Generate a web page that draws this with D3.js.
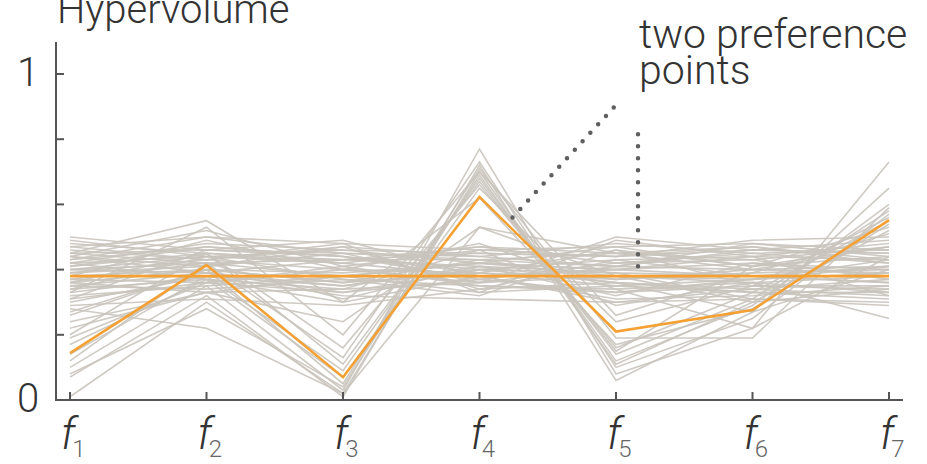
<!DOCTYPE html>
<html><head><meta charset="utf-8">
<script src="https://cdn.jsdelivr.net/npm/d3@7"></script>
<style>
html,body{margin:0;padding:0;background:#fff;}
svg{display:block;}
text{font-family:Roboto,"Open Sans",sans-serif;font-weight:300;}
</style></head>
<body>
<svg id="chart" width="927" height="464"></svg>
<script>
const dims = ["1","2","3","4","5","6","7"];
const yTicks = [0,0.2,0.4,0.6,0.8,1];
const yTickLabels = {0:"0",1:"1"};
const yTitle = "Hypervolume";
const annotation = ["two preference","points"];

const preferenceFlat = [0.38,0.38,0.38,0.38,0.38,0.38,0.38];
const preferenceZigzag = [0.144,0.414,0.07,0.623,0.21,0.276,0.552];

const grayLines = [
 [0.40,0.44,0.42,0.38,0.40,0.42,0.40],
 [0.45,0.46,0.44,0.40,0.43,0.44,0.43],
 [0.36,0.40,0.39,0.42,0.38,0.37,0.41],
 [0.42,0.48,0.46,0.45,0.44,0.46,0.45],
 [0.33,0.38,0.35,0.40,0.36,0.34,0.37],
 [0.47,0.50,0.48,0.46,0.47,0.48,0.44],
 [0.39,0.43,0.40,0.36,0.41,0.40,0.39],
 [0.44,0.41,0.45,0.43,0.45,0.43,0.47],
 [0.31,0.36,0.33,0.37,0.33,0.35,0.34],
 [0.41,0.45,0.43,0.47,0.42,0.45,0.42],
 [0.37,0.42,0.31,0.41,0.39,0.38,0.36],
 [0.43,0.47,0.44,0.39,0.46,0.41,0.44],
 [0.35,0.34,0.37,0.35,0.34,0.36,0.33],
 [0.46,0.43,0.47,0.44,0.48,0.45,0.46],
 [0.38,0.40,0.36,0.43,0.37,0.39,0.40],
 [0.32,0.35,0.38,0.33,0.35,0.33,0.31],
 [0.44,0.52,0.41,0.46,0.44,0.47,0.43],
 [0.40,0.39,0.43,0.41,0.32,0.42,0.38],
 [0.34,0.37,0.30,0.38,0.31,0.32,0.35],
 [0.42,0.44,0.46,0.42,0.40,0.44,0.48],
 [0.36,0.33,0.34,0.36,0.38,0.30,0.34],
 [0.48,0.45,0.42,0.47,0.45,0.47,0.42],
 [0.39,0.41,0.47,0.34,0.43,0.38,0.41],
 [0.30,0.38,0.32,0.31,0.30,0.34,0.32],
 [0.43,0.50,0.45,0.44,0.41,0.46,0.45],
 [0.37,0.36,0.40,0.39,0.35,0.37,0.39],
 [0.45,0.42,0.38,0.42,0.47,0.41,0.47],
 [0.41,0.47,0.44,0.37,0.42,0.43,0.37],
 [0.35,0.39,0.33,0.40,0.39,0.31,0.30],
 [0.49,0.44,0.43,0.45,0.44,0.49,0.50],
 [0.27,0.40,0.36,0.39,0.37,0.40,0.41],
 [0.24,0.33,0.38,0.42,0.40,0.38,0.36],
 [0.19,0.36,0.41,0.35,0.33,0.37,0.43],
 [0.29,0.31,0.29,0.34,0.36,0.33,0.33],
 [0.28,0.22,0.02,0.53,0.38,0.36,0.25],
 [0.10,0.35,0.03,0.77,0.08,0.22,0.73],
 [0.07,0.32,0.01,0.72,0.06,0.27,0.65],
 [0.01,0.30,0.02,0.70,0.12,0.29,0.60],
 [0.14,0.38,0.09,0.68,0.14,0.31,0.58],
 [0.12,0.42,0.13,0.73,0.10,0.25,0.57],
 [0.20,0.45,0.16,0.66,0.16,0.33,0.55],
 [0.26,0.40,0.05,0.71,0.19,0.19,0.59],
 [0.17,0.37,0.07,0.65,0.24,0.35,0.56],
 [0.08,0.28,0.04,0.69,0.11,0.30,0.52],
 [0.22,0.33,0.24,0.53,0.45,0.40,0.47],
 [0.45,0.55,0.30,0.62,0.17,0.28,0.54],
 [0.50,0.46,0.49,0.38,0.30,0.31,0.29],
 [0.33,0.53,0.20,0.70,0.26,0.39,0.51],
 [0.38,0.49,0.40,0.48,0.34,0.22,0.44],
 [0.47,0.43,0.48,0.33,0.49,0.44,0.32],
 [0.31,0.46,0.45,0.36,0.50,0.46,0.49],
 [0.42,0.37,0.34,0.46,0.29,0.36,0.38],
 [0.36,0.45,0.11,0.67,0.15,0.41,0.53],
 [0.40,0.42,0.43,0.43,0.41,0.48,0.46],
 [0.34,0.44,0.37,0.32,0.46,0.35,0.35],
 [0.44,0.39,0.35,0.41,0.36,0.27,0.40]
];

const svg = d3.select("#chart");
const x = d3.scalePoint().domain(dims).range([70, 889]);
const y = d3.scaleLinear().domain([0, 1]).range([400, 74]);
const axisColor = "#555";

const line = d3.line().x((d,i)=>x(dims[i])).y(d=>y(d));

// gray lines
svg.append("g").selectAll("path").data(grayLines).join("path")
  .attr("d", line).attr("fill","none")
  .attr("stroke","#c9c4bc").attr("stroke-width",1.6).attr("stroke-opacity",0.9);

// preference lines
svg.append("g").selectAll("path").data([preferenceFlat, preferenceZigzag]).join("path")
  .attr("d", line).attr("fill","none")
  .attr("stroke","#f4a033").attr("stroke-width",2.6);

// axes
const ax = svg.append("g");
ax.append("line").attr("x1",56).attr("x2",56).attr("y1",42).attr("y2",y(0)+1)
  .attr("stroke",axisColor).attr("stroke-width",2);
ax.append("line").attr("x1",55).attr("x2",903).attr("y1",y(0)).attr("y2",y(0))
  .attr("stroke",axisColor).attr("stroke-width",2);
ax.selectAll(".yt").data(yTicks.filter(d=>d>0)).join("line")
  .attr("x1",56).attr("x2",64).attr("y1",d=>y(d)).attr("y2",d=>y(d))
  .attr("stroke",axisColor).attr("stroke-width",2);
ax.selectAll(".xt").data(dims).join("line")
  .attr("x1",d=>x(d)).attr("x2",d=>x(d)).attr("y1",y(0)).attr("y2",y(0)-8)
  .attr("stroke",axisColor).attr("stroke-width",2);

// y tick labels
ax.selectAll(".yl").data(yTicks.filter(d=>yTickLabels[d]!==undefined)).join("text")
  .attr("x",28).attr("y",d=>y(d)+12)
  .attr("text-anchor","middle").attr("font-size",40).attr("fill","#333")
  .text(d=>yTickLabels[d]);

// x labels
const xl = ax.selectAll(".xl").data(dims).join("text")
  .attr("x",d=>x(d)-9).attr("y",449)
  .attr("text-anchor","start").attr("fill","#333");
xl.append("tspan").attr("font-style","italic").attr("font-size",44).text("f");
xl.append("tspan").attr("font-size",24).attr("fill","#666").attr("dx",-3).attr("dy",8).text(d=>d);

// title
svg.append("text").attr("x",57).attr("y",23).attr("font-size",40).attr("fill","#333").text(yTitle);

// annotation
const f4 = x("4"), f5 = x("5");
svg.append("line").attr("x1",f4+33).attr("y1",y(0.56)).attr("x2",f4+135).attr("y2",y(0.90))
  .attr("stroke","#5f5f5f").attr("stroke-width",4.5).attr("stroke-linecap","round").attr("stroke-dasharray","0,11.5");
svg.append("line").attr("x1",f5+22).attr("y1",y(0.41)).attr("x2",f5+22).attr("y2",y(0.85))
  .attr("stroke","#5f5f5f").attr("stroke-width",4.5).attr("stroke-linecap","round").attr("stroke-dasharray","0,12");
svg.append("text").attr("x",639).attr("y",48).attr("font-size",41).attr("fill","#333").text(annotation[0]);
svg.append("text").attr("x",639).attr("y",84).attr("font-size",41).attr("fill","#333").text(annotation[1]);
</script>
</body></html>
